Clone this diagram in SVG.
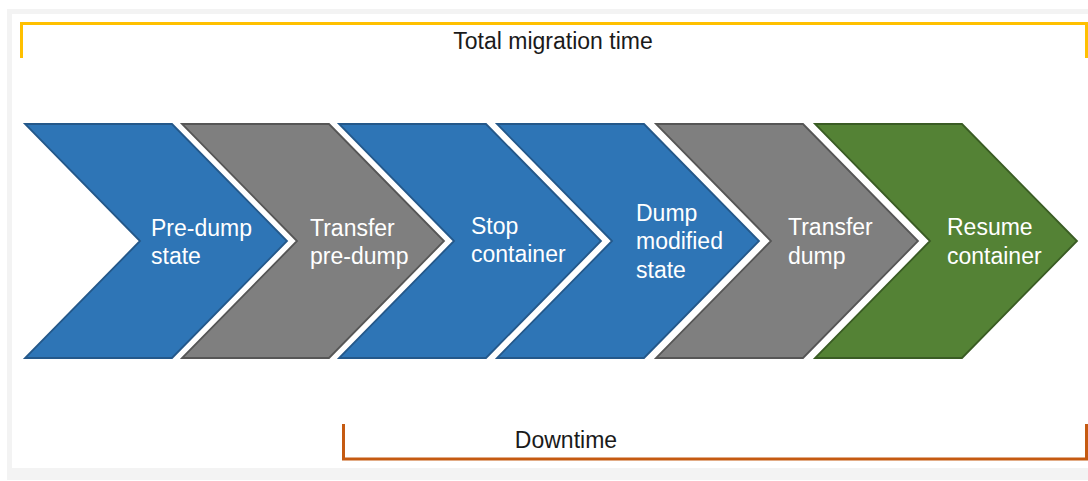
<svg xmlns="http://www.w3.org/2000/svg" width="1088" height="481" viewBox="0 0 1088 481">
  <style>
    .lbl { font-family: "Liberation Sans", Arial, sans-serif; font-size: 23px; fill: #ffffff; }
    .cap { font-family: "Liberation Sans", Arial, sans-serif; font-size: 23px; fill: #1a1a1a; }
    .blue { fill: #2e75b6; stroke: #24588a; stroke-width: 1.8; }
    .gray { fill: #7f7f7f; stroke: #565656; stroke-width: 1.8; }
    .green { fill: #548235; stroke: #3a5c24; stroke-width: 1.8; }
    .bracket { fill: none; stroke-width: 3; stroke-linejoin: miter; }
  </style>
  <defs>
    <!-- one chevron step, drawn from its top-left corner -->
    <path id="chev" d="M0,0 L147,0 L262,117 L147,234 L0,234 L115,117 Z"/>
  </defs>

  <!-- page frame -->
  <rect x="0" y="0" width="1088" height="481" fill="#ffffff"/>
  <rect x="7" y="9" width="1081" height="471" fill="#f3f3f3"/>
  <rect x="12" y="14" width="1076" height="454" fill="#ffffff"/>

  <g id="connectors">
    <!-- total migration time bracket -->
    <path class="bracket" stroke="#ffc000" d="M21.5,58 V23.5 H1086.5 V58"/>
    <!-- downtime bracket -->
    <path class="bracket" stroke="#c55a11" d="M343.5,424 V459 H1086.5 V424"/>
  </g>

  <g id="label-total">
    <text class="cap" x="553" y="49" text-anchor="middle">Total migration time</text>
  </g>
  <g id="label-downtime">
    <text class="cap" x="566" y="448" text-anchor="middle">Downtime</text>
  </g>

  <g id="step-predump">
    <use href="#chev" x="25" y="124" class="blue"/>
    <text class="lbl" x="151" y="236">Pre-dump</text>
    <text class="lbl" x="151" y="264">state</text>
  </g>
  <g id="step-transfer-predump">
    <use href="#chev" x="182" y="124" class="gray"/>
    <text class="lbl" x="310" y="236">Transfer</text>
    <text class="lbl" x="310" y="264">pre-dump</text>
  </g>
  <g id="step-stop">
    <use href="#chev" x="339" y="124" class="blue"/>
    <text class="lbl" x="471" y="234">Stop</text>
    <text class="lbl" x="471" y="262">container</text>
  </g>
  <g id="step-dump-modified">
    <use href="#chev" x="497" y="124" class="blue"/>
    <text class="lbl" x="636" y="221">Dump</text>
    <text class="lbl" x="636" y="249">modified</text>
    <text class="lbl" x="636" y="278">state</text>
  </g>
  <g id="step-transfer-dump">
    <use href="#chev" x="656" y="124" class="gray"/>
    <text class="lbl" x="788" y="235">Transfer</text>
    <text class="lbl" x="788" y="264">dump</text>
  </g>
  <g id="step-resume">
    <use href="#chev" x="815" y="124" class="green"/>
    <text class="lbl" x="947" y="235">Resume</text>
    <text class="lbl" x="947" y="264">container</text>
  </g>
</svg>
